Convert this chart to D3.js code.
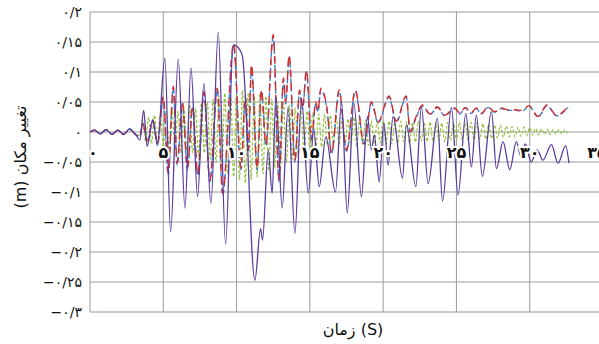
<!DOCTYPE html>
<html>
<head>
<meta charset="utf-8">
<script src="https://d3js.org/d3.v7.min.js"></script>
<style>
  body { margin: 0; background: #fff; }
  svg { display: block; }
</style>
</head>
<body>
<div id="chart"></div>
<script>
// tick values and their labels (Persian digits)
const yTicks = [0.2, 0.15, 0.1, 0.05, 0, -0.05, -0.1, -0.15, -0.2, -0.25, -0.3];
const yLabels = ["۰/۲", "۰/۱۵", "۰/۱", "۰/۰۵", "۰", "−۰/۰۵", "−۰/۱", "−۰/۱۵", "−۰/۲", "−۰/۲۵", "−۰/۳"];
const xTicks = [0, 5, 10, 15, 20, 25, 30, 35];
const xLabels = ["۰", "۵", "۱۰", "۱۵", "۲۰", "۲۵", "۳۰", "۳۵"];

// [time (s), displacement (m)]
const purple = [[0,0],[0.3,0.003],[0.7,-0.003],[1.1,0.004],[1.5,-0.004],[1.9,0.003],[2.3,-0.004],[2.7,0.005],[3.1,-0.004],
  [3.41,-0.013],[3.66,0.036],[3.9,-0.024],[4.27,0.02],[4.6,-0.02],[5.11,0.123],[5.5,-0.166],[6.02,0.121],[6.48,-0.127],
  [6.89,0.107],[7.34,-0.108],[7.77,0.081],[8.25,-0.119],[8.75,0.166],[9.25,-0.187],[9.77,0.145],[10.05,0.142],[10.4,0.126],
  [11.25,-0.247],[11.64,-0.161],[11.77,-0.18],[12.16,-0.03],[12.43,-0.102],[12.68,0.059],[13.11,-0.127],[13.52,0.042],
  [13.98,-0.169],[14.43,0.056],[14.89,-0.102],[15.27,0.003],[15.64,-0.091],[16.09,-0.008],[16.75,-0.1],[17.16,0.05],
  [17.55,-0.135],[18.0,0.048],[18.52,-0.108],[18.93,0.026],[19.2,-0.03],[19.4,-0.005],[19.73,-0.083],[20.05,0.015],
  [20.34,-0.055],[20.68,0.026],[21.32,-0.077],[21.59,0.012],[22.23,-0.091],[22.61,0.042],[23.07,-0.086],[23.7,0.023],
  [24.05,-0.115],[24.66,0.041],[25.11,-0.105],[25.64,0.031],[26.02,-0.058],[26.36,0.028],[26.77,-0.074],[27.39,0.034],
  [27.73,-0.061],[28.18,-0.016],[28.64,-0.063],[29.09,-0.016],[29.39,-0.04],[29.7,-0.02],[30.1,-0.05],[30.5,-0.03],
  [30.9,-0.047],[31.48,-0.021],[31.93,-0.052],[32.45,-0.023],[32.68,-0.052]];

const red = [[0,0],[0.3,0.003],[0.7,-0.003],[1.1,0.004],[1.5,-0.004],[1.9,0.003],[2.3,-0.004],[2.7,0.005],[3.1,-0.004],
  [3.4,-0.008],[3.6,0.015],[3.9,-0.015],[4.3,0.02],[4.6,-0.02],[5.0,0.059],[5.34,-0.069],[5.68,0.076],[5.95,-0.052],
  [6.3,0.05],[6.65,-0.06],[7.0,0.042],[7.35,-0.07],[7.77,0.067],[8.18,-0.08],[8.68,0.073],[9.05,-0.102],[9.8,0.148],
  [10.3,-0.06],[10.6,0.06],[10.8,-0.03],[11.02,0.112],[11.4,-0.06],[11.7,0.07],[12.0,-0.02],[12.5,0.162],[12.9,-0.08],
  [13.2,0.09],[13.35,0.05],[13.59,0.128],[13.98,-0.047],[14.3,0.07],[14.5,0.04],[14.77,0.103],[15.11,-0.013],[15.4,0.05],
  [15.55,0.035],[15.75,0.073],[16.18,0.037],[16.48,-0.035],[17.0,0.07],[17.5,-0.03],[18.1,0.07],[18.7,-0.02],[19.2,0.05],
  [19.66,0.017],[20.4,0.06],[20.9,0.018],[21.57,0.06],[21.85,0.0],[22.16,0.02],[22.7,0.045],[23.2,0.03],[23.7,0.042],
  [24.2,0.028],[24.89,0.04],[25.23,0.031],[25.6,0.041],[26.0,0.032],[26.36,0.04],[26.7,0.031],[27.16,0.042],[27.6,0.034],
  [28.07,0.04],[28.5,0.037],[29.0,0.037],[29.5,0.036],[29.95,0.044],[30.57,0.026],[31.18,0.045],[31.82,0.028],[32.61,0.042]];

const blue = [[0,0],[0.3,0.003],[0.7,-0.003],[1.1,0.004],[1.5,-0.004],[1.9,0.003],[2.3,-0.004],[2.7,0.005],[3.1,-0.004],
  [3.4,-0.007],[3.6,0.014],[3.9,-0.016],[4.3,0.018],[4.6,-0.022],[5.0,0.056],[5.34,-0.072],[5.68,0.073],[5.95,-0.055],
  [6.3,0.047],[6.65,-0.063],[7.0,0.04],[7.35,-0.073],[7.77,0.064],[8.18,-0.083],[8.68,0.07],[9.05,-0.105],[9.8,0.143],
  [10.3,-0.063],[10.6,0.057],[10.8,-0.033],[11.02,0.108],[11.4,-0.063],[11.7,0.067],[12.0,-0.023],[12.5,0.158],[12.9,-0.083],
  [13.2,0.087],[13.35,0.047],[13.59,0.125],[13.98,-0.05],[14.3,0.067],[14.5,0.038],[14.77,0.1],[15.11,-0.016],[15.4,0.047],
  [15.55,0.033],[15.75,0.07],[16.18,0.035],[16.48,-0.037],[17.0,0.068],[17.5,-0.032],[18.1,0.068],[18.7,-0.022],[19.2,0.048],
  [19.66,0.015],[20.4,0.058],[20.9,0.016],[21.57,0.058],[21.85,-0.002],[22.16,0.018],[22.7,0.043],[23.2,0.029],[23.7,0.041],
  [24.2,0.027],[24.89,0.039],[25.23,0.03],[25.6,0.04],[26.0,0.031],[26.36,0.039],[26.7,0.03],[27.16,0.041],[27.6,0.033],
  [28.07,0.039],[28.5,0.036],[29.0,0.036],[29.5,0.035],[29.95,0.043],[30.57,0.025],[31.18,0.044],[31.82,0.027],[32.61,0.041]];

const green = [[0,0],[0.3,0.004],[0.7,-0.003],[1.1,0.004],[1.5,-0.004],[1.9,0.003],[2.3,-0.004],[2.7,0.004],[3.1,-0.004],
  [3.4,-0.005],[3.6,0.02],[3.8,-0.015],[4.0,0.025],[4.2,-0.02],[4.4,0.028],[4.6,-0.022],[4.8,0.03],[5.0,-0.025],[5.2,0.035],
  [5.4,-0.03],[5.6,0.04],[5.8,-0.03],[6.0,0.035],[6.2,-0.035],[6.4,0.042],[6.6,-0.03],[6.8,0.045],[7.0,-0.035],[7.2,0.04],
  [7.4,-0.04],[7.6,0.048],[7.8,-0.035],[8.0,0.05],[8.2,-0.045],[8.4,0.055],[8.6,-0.05],[8.8,0.06],[9.0,-0.06],[9.2,0.065],
  [9.4,-0.07],[9.6,0.06],[9.8,-0.075],[10.0,0.065],[10.2,-0.08],[10.4,0.07],[10.6,-0.085],[10.8,0.065],[11.0,-0.08],
  [11.2,0.06],[11.4,-0.075],[11.6,0.065],[11.8,-0.07],[12.0,0.06],[12.2,-0.065],[12.4,0.055],[12.6,-0.06],[12.8,0.05],
  [13.0,-0.055],[13.2,0.048],[13.4,-0.05],[13.6,0.045],[13.8,-0.045],[14.0,0.04],[14.2,-0.04],[14.4,0.038],[14.6,-0.035],
  [14.8,0.035],[15.0,-0.03],[15.2,0.032],[15.4,-0.028],[15.6,0.03],[15.8,-0.025],[16.0,0.03],[16.2,-0.022],[16.4,0.028],
  [16.6,-0.02],[16.8,0.025],[17.0,-0.022],[17.2,0.024],[17.4,-0.02],[17.6,0.022],[17.8,-0.022],[18.0,0.025],[18.2,-0.024],
  [18.4,0.022],[18.6,-0.02],[18.8,0.02],[19.0,-0.022],[19.2,0.018],[19.4,-0.02],[19.6,0.02],[19.8,-0.018],[20.0,0.018],
  [20.2,-0.02],[20.4,0.018],[20.6,-0.02],[20.8,0.016],[21.0,-0.018],[21.2,0.018],[21.4,-0.016],[21.6,0.017],[21.8,-0.018],
  [22.0,0.016],[22.2,-0.017],[22.4,0.018],[22.6,-0.015],[22.8,0.016],[23.0,-0.016],[23.2,0.017],[23.4,-0.015],[23.6,0.016],
  [23.8,-0.014],[24.0,0.015],[24.2,-0.016],[24.4,0.016],[24.6,-0.014],[24.8,0.015],[25.0,-0.015],[25.2,0.016],[25.4,-0.013],
  [25.6,0.015],[25.8,-0.014],[26.0,0.016],[26.2,-0.013],[26.4,0.015],[26.6,-0.012],[26.8,0.014],[27.0,-0.012],[27.2,0.013],
  [27.4,-0.011],[27.6,0.012],[27.8,-0.01],[28.0,0.011],[28.2,-0.009],[28.4,0.01],[28.6,-0.008],[28.8,0.009],[29.0,-0.008],
  [29.2,0.008],[29.4,-0.007],[29.6,0.008],[29.8,-0.006],[30.0,0.007],[30.2,-0.005],[30.4,0.006],[30.6,-0.005],[30.8,0.005],
  [31.0,-0.004],[31.2,0.005],[31.4,-0.004],[31.6,0.004],[31.8,-0.003],[32.0,0.004],[32.2,-0.003],[32.4,0.003],[32.6,-0.002]];

let width = 599, height = 344;

let svg = d3.select("#chart").append("svg")
    .attr("width", width)
    .attr("height", height);

let x = d3.scaleLinear().domain([0, 35]).range([90, 603]);
let y = d3.scaleLinear().domain([-0.3, 0.2]).range([312, 12]);

// grid
svg.append("g").selectAll("line").data(yTicks).enter()
    .append("line")
    .attr("x1", x(0)).attr("x2", width)
    .attr("y1", d => y(d)).attr("y2", d => y(d))
    .attr("stroke", "#9a9a9a").attr("stroke-width", 1);

svg.append("g").selectAll("line").data(xTicks).enter()
    .append("line")
    .attr("x1", d => x(d)).attr("x2", d => x(d))
    .attr("y1", y(0.2)).attr("y2", y(-0.3))
    .attr("stroke", "#9a9a9a").attr("stroke-width", 1);

// series
let line = d3.line()
    .x(d => x(d[0]))
    .y(d => y(d[1]))
    .curve(d3.curveMonotoneX);

let series = [
    {data: green, color: "#93c13c", width: 1.2, dash: "3,2"},
    {data: blue, color: "#3f7fd1", width: 1.4, dash: "5,3"},
    {data: red, color: "#d62b2b", width: 1.4, dash: "8,5"},
    {data: purple, color: "#5a3c9e", width: 1.3, dash: null}
];

svg.append("g").selectAll("path").data(series).enter()
    .append("path")
    .attr("d", d => line(d.data))
    .attr("fill", "none")
    .attr("stroke", d => d.color)
    .attr("stroke-width", d => d.width)
    .attr("stroke-dasharray", d => d.dash);

// y tick labels
svg.append("g").selectAll("text").data(yTicks).enter()
    .append("text")
    .attr("x", 82)
    .attr("y", d => y(d))
    .attr("dy", "0.35em")
    .attr("text-anchor", "end")
    .attr("font-family", "DejaVu Sans")
    .attr("font-size", 14)
    .attr("fill", "#111")
    .text((d, i) => yLabels[i]);

// x tick labels sit just under the zero line
function labelX(d) {
    if (d === 0) return x(d) + 3;
    if (d === 35) return x(d) - 6;   // only the first digit shows at the edge
    return x(d);
}

svg.append("g").selectAll("text").data(xTicks).enter()
    .append("text")
    .attr("x", labelX)
    .attr("y", y(0) + 26)
    .attr("text-anchor", "middle")
    .attr("font-family", "DejaVu Sans")
    .attr("font-size", 16)
    .attr("font-weight", "bold")
    .attr("fill", "#111")
    .attr("stroke", "#fff")
    .attr("stroke-width", 4)
    .attr("paint-order", "stroke")
    .text((d, i) => xLabels[i]);

// axis titles
svg.append("text")
    .attr("x", 353).attr("y", 335)
    .attr("text-anchor", "middle")
    .attr("font-family", "DejaVu Sans")
    .attr("font-size", 16)
    .attr("fill", "#111")
    .text("زمان (S)");

svg.append("text")
    .attr("transform", "translate(26,157) rotate(-90)")
    .attr("text-anchor", "middle")
    .attr("direction", "rtl")
    .attr("font-family", "DejaVu Sans")
    .attr("font-size", 16)
    .attr("fill", "#111")
    .text("تغییر مکان (m)");
</script>
</body>
</html>
